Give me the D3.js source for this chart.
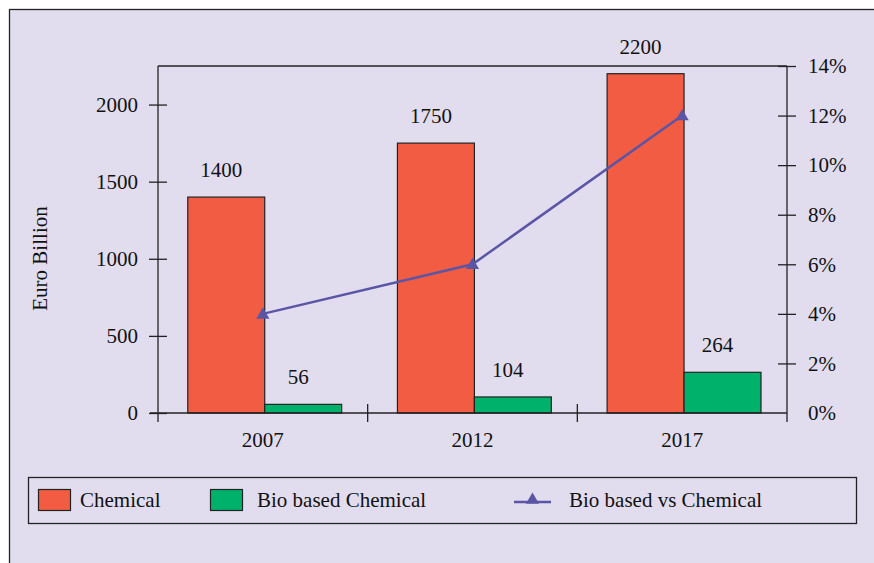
<!DOCTYPE html>
<html>
<head>
<meta charset="utf-8">
<script src="https://cdn.jsdelivr.net/npm/d3@7"></script>
<style>
  body { margin: 0; background: #fff; }
  svg text { font-family: "Liberation Serif", "DejaVu Serif", serif; fill: #111; }
</style>
</head>
<body>
<div id="chart"></div>
<script>
// Data
const years = ["2007", "2012", "2017"];
const chemical = [1400, 1750, 2200];
const bioChemical = [56, 104, 264];
const bioShare = [4, 6, 12]; // percent
const leftTicks = [0, 500, 1000, 1500, 2000];
const rightTicks = [0, 2, 4, 6, 8, 10, 12, 14];
const seriesNames = ["Chemical", "Bio based Chemical", "Bio based vs Chemical"];

const W = 874, H = 563;
const FS = 21;
const plot = {left: 158, right: 787, top: 66, bottom: 413};
const red = "#f15c42", green = "#00b16c", purple = "#5b55a6";

const svg = d3.select("#chart").append("svg")
    .attr("width", W).attr("height", H);

// outer panel
svg.append("rect")
    .attr("x", 9.5).attr("y", 9.5)
    .attr("width", W + 10).attr("height", H + 10)
    .attr("fill", "#e1ddef")
    .attr("stroke", "#222").attr("stroke-width", 1.3);

// scales
const x = d3.scaleBand().domain(years).range([plot.left, plot.right]).padding(0);
const bw = x.bandwidth();
const xSub = d3.scaleBand().domain(["chem", "bio"]).range([bw * 0.142, bw * 0.876]);
const y = d3.scaleLinear().domain([0, 2250]).range([plot.bottom, plot.top]);
const y2 = d3.scaleLinear().domain([0, 14]).range([plot.bottom, plot.top]);

const g = svg.append("g");

// frame top line
g.append("line")
    .attr("x1", plot.left).attr("x2", plot.right)
    .attr("y1", plot.top).attr("y2", plot.top)
    .attr("stroke", "#222").attr("stroke-width", 1.3);

// bars
const rows = years.map((yr, i) => ({year: yr, chem: chemical[i], bio: bioChemical[i]}));
const groups = g.selectAll("g.year").data(rows).join("g")
    .attr("class", "year")
    .attr("transform", d => `translate(${x(d.year)},0)`);

groups.selectAll("rect")
    .data(d => [{k: "chem", v: d.chem}, {k: "bio", v: d.bio}])
    .join("rect")
    .attr("x", d => xSub(d.k))
    .attr("width", xSub.bandwidth())
    .attr("y", d => y(d.v))
    .attr("height", d => y(0) - y(d.v))
    .attr("fill", d => d.k === "chem" ? red : green)
    .attr("stroke", "#222").attr("stroke-width", 1.2);

groups.selectAll("text")
    .data(d => [{k: "chem", v: d.chem}, {k: "bio", v: d.bio}])
    .join("text")
    .attr("x", d => xSub(d.k) + xSub.bandwidth() / 2 - 5)
    .attr("y", d => y(d.v) - 20)
    .attr("text-anchor", "middle")
    .attr("font-size", FS)
    .text(d => d.v);

// left axis
const axL = g.append("g")
    .attr("transform", `translate(${plot.left},0)`)
    .call(d3.axisLeft(y).tickValues(leftTicks).tickSize(9).tickPadding(11)
        .tickFormat(d3.format("d")));
axL.select(".domain").remove();
axL.selectAll(".tick line").attr("x1", 9).attr("stroke", "#222").attr("stroke-width", 1.3);
axL.selectAll(".tick text").attr("font-size", FS).attr("font-family", "Liberation Serif").attr("fill", "#111");
g.append("line")
    .attr("x1", plot.left).attr("x2", plot.left)
    .attr("y1", plot.top).attr("y2", plot.bottom + 9)
    .attr("stroke", "#222").attr("stroke-width", 1.3);

// right axis
const axR = g.append("g")
    .attr("transform", `translate(${plot.right},0)`)
    .call(d3.axisRight(y2).tickValues(rightTicks).tickSize(9).tickPadding(12)
        .tickFormat(d => d + "%"));
axR.select(".domain").remove();
axR.selectAll(".tick line")
    .attr("x1", d => d === 0 ? 0 : -9)
    .attr("x2", d => d === 0 ? 0 : 9)
    .attr("stroke", "#222").attr("stroke-width", 1.3);
axR.selectAll(".tick text").attr("font-size", FS).attr("font-family", "Liberation Serif").attr("fill", "#111");
g.append("line")
    .attr("x1", plot.right).attr("x2", plot.right)
    .attr("y1", plot.top).attr("y2", plot.bottom + 9)
    .attr("stroke", "#222").attr("stroke-width", 1.3);

// bottom axis
g.append("line")
    .attr("x1", plot.left - 8).attr("x2", plot.right)
    .attr("y1", plot.bottom).attr("y2", plot.bottom)
    .attr("stroke", "#222").attr("stroke-width", 1.3);
const inner = years.slice(1).map(yr => x(yr));
g.selectAll("line.xtick").data(inner).join("line")
    .attr("class", "xtick")
    .attr("x1", d => d).attr("x2", d => d)
    .attr("y1", plot.bottom - 9).attr("y2", plot.bottom + 9)
    .attr("stroke", "#222").attr("stroke-width", 1.3);
g.selectAll("text.xlab").data(years).join("text")
    .attr("class", "xlab")
    .attr("x", d => x(d) + bw / 2)
    .attr("y", plot.bottom + 34)
    .attr("text-anchor", "middle")
    .attr("font-size", FS)
    .text(d => d);

// y title
svg.append("text")
    .attr("transform", `translate(47,${(plot.top + plot.bottom) / 2 + 19}) rotate(-90)`)
    .attr("text-anchor", "middle")
    .attr("font-size", FS)
    .text("Euro Billion");

// share line
const linePts = years.map((yr, i) => [x(yr) + bw / 2, y2(bioShare[i])]);
g.append("path")
    .attr("d", d3.line()(linePts))
    .attr("fill", "none").attr("stroke", purple).attr("stroke-width", 2.5);
g.selectAll("path.mark").data(linePts).join("path")
    .attr("class", "mark")
    .attr("transform", d => `translate(${d[0]},${d[1] + 1})`)
    .attr("d", d3.symbol(d3.symbolTriangle, 75))
    .attr("fill", purple);

// legend
const lg = svg.append("g");
lg.append("rect")
    .attr("x", 28.5).attr("y", 477.5).attr("width", 828).attr("height", 46)
    .attr("fill", "none").attr("stroke", "#222").attr("stroke-width", 1.3);
const ly = 500;
lg.append("rect").attr("x", 38.5).attr("y", 489.5).attr("width", 32).attr("height", 21)
    .attr("fill", red).attr("stroke", "#222").attr("stroke-width", 1.2);
lg.append("text").attr("x", 80).attr("y", ly + 7).attr("font-size", FS).text(seriesNames[0]);
lg.append("rect").attr("x", 210.5).attr("y", 489.5).attr("width", 32).attr("height", 21)
    .attr("fill", green).attr("stroke", "#222").attr("stroke-width", 1.2);
lg.append("text").attr("x", 257).attr("y", ly + 7).attr("font-size", FS).text(seriesNames[1]);
lg.append("line").attr("x1", 514).attr("x2", 551).attr("y1", ly + 2).attr("y2", ly + 2)
    .attr("stroke", purple).attr("stroke-width", 2.5);
lg.append("path")
    .attr("transform", `translate(532.5,${ly})`)
    .attr("d", d3.symbol(d3.symbolTriangle, 75))
    .attr("fill", purple);
lg.append("text").attr("x", 569).attr("y", ly + 7).attr("font-size", FS).text(seriesNames[2]);
</script>
</body>
</html>
